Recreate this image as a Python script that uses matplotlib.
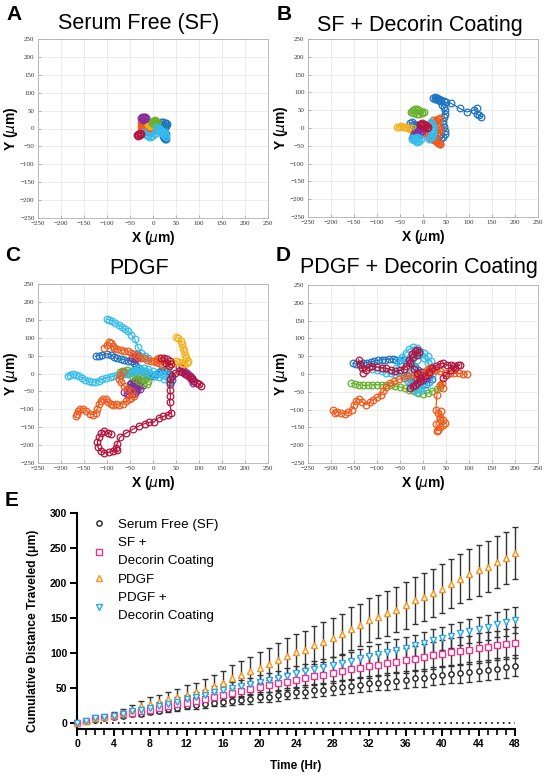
import matplotlib
matplotlib.use("Agg")
import matplotlib.pyplot as plt
from matplotlib.ticker import MultipleLocator

plt.rcParams.update({"font.family": ["Liberation Sans", "DejaVu Sans"],
                     "mathtext.fontset": "dejavusans"})

W, H = 550, 780

# ---- trajectory colours (MATLAB-ish, a bit brighter)
BLUE = "#1f74c0"; ORANGE = "#f25a1c"; YELLOW = "#f5b01a"; PURPLE = "#8a2d9c"
GREEN = "#68b22e"; CYAN = "#34bdee"; RED = "#b4143e"

# ---- A: serum free
a_colors = [BLUE, ORANGE, YELLOW, PURPLE, GREEN, CYAN, RED]
a_x = [[2, 6, 10, 14, 18, 22, 26, 29, 31, 28, 25, 22, 20, 23, 26, 28, 27, 25, 22, 24, 27, 29, 26],
       [-26, -24, -21, -18, -20, -24, -26, -23, -19, -15, -11, -8, -11, -15, -19, -22, -20, -16, -12, -8, -4, 0, 2, 0, -3, -6, -2, 2, 4, 1],
       [-10, -7, -4, -1, -3, -6, -9],
       [-26, -23, -20, -17, -15, -18, -21, -24],
       [-2, 1, 4, 7, 9, 8, 5, 2, 0],
       [-22, -18, -14, -10, -6, -2, 2, 6, 10, 14, 18, 22, 26, 29, 27, 23, 19, 15, 11, 7],
       [-35, -32, -29, -26, -29, -33]]
a_y = [[8, 10, 13, 15, 17, 18, 16, 14, 12, 8, 4, 0, -4, -8, -12, -16, -20, -24, -22, -26, -28, -30, -27],
       [16, 21, 24, 20, 14, 10, 4, -1, -3, 0, 3, 8, 13, 16, 12, 6, -2, -7, -10, -6, -11, -8, -3, 3, 7, 11, 14, 9, 4, 0],
       [12, 16, 18, 14, 9, 7, 10],
       [28, 31, 33, 32, 29, 26, 25, 27],
       [16, 20, 23, 22, 18, 14, 12, 15, 19],
       [-10, -14, -18, -22, -24, -20, -16, -12, -8, -4, -8, -14, -20, -24, -16, -10, -6, -2, 1, 4],
       [-18, -21, -19, -15, -13, -16]]

# ---- B: SF + decorin coating
b_colors = [BLUE, BLUE, ORANGE, YELLOW, PURPLE, GREEN, CYAN, CYAN, RED]
b_x = [[127, 122, 118, 117, 110, 95, 80, 60, 50, 45, 40, 35, 30, 25, 22, 26, 32, 38, 42, 45, 48, 47, 45, 43, 44, 46, 48, 47, 44, 40, 35, 30],
       [-28, -24, -20, -16, -12, -9, -12, -16, -20, -24, -20, -15, -10, -6, -3],
       [36, 32, 28, 24, 20, 16, 12, 8, 4, 2, 6, 12, 18, 24, 30, 34, 38, 36, 32, 28, 26, 30, 34, 37, 34, 30, 26, 22],
       [-57, -52, -47, -42, -37, -32, -28, -25],
       [-22, -18, -14, -10, -6, -2, -6, -10, -15, -19],
       [-26, -22, -18, -14, -10, -6, -2, 2, -2, -8, -14, -20, -24],
       [-24, -20, -16, -12, -8, -4, -8, -12, -16, -20, -24, -20],
       [14, 17, 19, 21, 22, 20, 18, 16, 18, 20, 22, 19, 16],
       [-6, -2, 2, 6, 10, 8, 4, 0, -4]]
b_y = [[32, 36, 40, 55, 50, 45, 55, 70, 72, 75, 80, 82, 85, 86, 84, 82, 80, 75, 65, 58, 50, 40, 30, 20, 10, 2, -8, -18, -25, -28, -22, -15],
       [14, 16, 12, 9, 5, -2, -8, -12, -8, -2, 2, -3, -8, -14, -18],
       [28, 24, 22, 18, 14, 10, 6, 2, -4, -12, -20, -26, -30, -34, -38, -42, -44, -46, -42, -36, -28, -20, -12, -4, 4, 12, 18, 22],
       [2, 4, 6, 4, 2, 0, -2, 0],
       [-22, -24, -20, -16, -12, -8, -4, -8, -14, -18],
       [46, 50, 53, 52, 50, 48, 46, 44, 41, 39, 40, 42, 44],
       [-28, -32, -36, -38, -36, -32, -28, -26, -30, -34, -32, -29],
       [-30, -22, -14, -6, 2, 10, 18, 12, 4, -6, -16, -24, -28],
       [10, 13, 11, 8, 4, 0, 3, 6, 8]]

# ---- C: PDGF
c_colors = [BLUE, BLUE, PURPLE, PURPLE, PURPLE, GREEN, CYAN, CYAN, CYAN, YELLOW, ORANGE, ORANGE, RED, RED]
c_x = [[-125, -118, -110, -100, -92, -85, -78, -70, -62, -55, -48, -42, -36, -30, -24, -18, -12, -6, 0, 6, 12, 18, 24, 30, 36, 40, 42, 38],
       [-50, -45, -40, -35, -30, -35, -42, -48, -44, -38],
       [-62, -57, -52, -46, -40, -35, -30, -36, -44, -52, -56, -48, -40, -32, -26, -22, -28, -36],
       [-45, -40, -35, -30, -34, -40],
       [56, 62, 68, 74, 80, 84, 88, 86, 82, 76, 70, 64],
       [-72, -64, -56, -48, -40, -32, -24, -16, -10, -14, -22, -30, -38, -46, -54, -62, -68],
       [-100, -95, -89, -82, -75, -68, -61, -54, -47, -40, -33, -26, -18, -10],
       [-185, -180, -174, -168, -161, -154, -147, -140, -133, -126, -118, -110, -102, -94, -86, -78, -70, -62, -54, -46, -38, -30],
       [-40, -30, -20, -10, 0, 10, 20, 30, 38, 34, 24, 14, 4, -6, -16, -26, -36],
       [50, 55, 60, 63, 65, 67, 70, 72, 75, 73, 68, 62, 56, 50, 44, 38, 34],
       [-106, -100, -96, -92, -88, -84, -78, -70, -62, -55, -48, -42, -35, -28, -20, -12, -5, 2, 8, 14, 20, 26, 20, 12, 6],
       [-168, -166, -162, -158, -152, -146, -138, -130, -124, -121, -118, -114, -108, -102, -97, -92, -87, -81, -74, -66, -58, -52, -47, -42, -48, -56, -64, -70, -74, -72, -66],
       [105, 100, 95, 90, 85, 80, 72, 64, 56, 48, 42, 38, 36, 37, 38, 36, 40, 32, 22, 12, 2, -8, -18, -30, -44, -58, -72, -78, -80, -78, -86, -96, -106, -114, -120, -121, -117, -112, -106, -98, -92],
       [18, 24, 30, 36, 40, 34, 28]]
c_y = [[48, 50, 52, 55, 52, 46, 42, 40, 38, 36, 34, 30, 22, 14, 8, 2, -4, -8, -6, -2, 4, 8, 10, 6, 0, -8, -18, -24],
       [-30, -36, -40, -38, -30, -24, -22, -28, -34, -44],
       [-52, -56, -60, -58, -54, -46, -36, -30, -34, -40, -46, -26, -18, -14, -20, -32, -44, -50],
       [42, 48, 54, 50, 44, 40],
       [18, 14, 8, 2, -6, -12, -20, -26, -16, -8, 0, 8],
       [4, 8, 10, 8, 4, 0, -4, -10, -20, -28, -26, -20, -14, -8, -2, 2, 6],
       [152, 150, 147, 142, 136, 130, 124, 118, 108, 96, 74, 58, 48, 42],
       [-6, -3, -2, -4, -8, -12, -17, -22, -25, -24, -20, -16, -12, -10, -8, -5, -3, 0, 2, 4, 6, 8],
       [10, 14, 16, 12, 6, 2, 0, -4, -12, -20, -16, -10, -6, -2, 2, 6, 8],
       [102, 98, 90, 82, 72, 62, 52, 44, 36, 30, 26, 28, 32, 34, 30, 26, 22],
       [72, 80, 88, 84, 76, 70, 68, 66, 64, 62, 58, 55, 48, 44, 42, 38, 35, 36, 40, 42, 38, 30, 24, 28, 32],
       [-120, -114, -106, -100, -98, -104, -112, -116, -110, -98, -86, -76, -70, -72, -80, -86, -88, -86, -88, -84, -78, -72, -68, -64, -50, -42, -34, -24, -14, -4, 4],
       [-36, -30, -26, -22, -14, -6, 0, 4, 6, 2, -6, -16, -30, -46, -62, -80, -110, -116, -120, -124, -136, -136, -140, -146, -156, -166, -178, -196, -208, -214, -216, -220, -222, -216, -206, -192, -178, -166, -160, -165, -170],
       [42, 44, 40, 34, 26, 22, 28]]

# ---- D: PDGF + decorin coating
d_colors = [BLUE, GREEN, CYAN, CYAN, PURPLE, ORANGE, ORANGE, ORANGE, RED]
d_x = [[-152, -145, -138, -130, -122, -114, -106, -98, -90, -82, -74, -66, -58, -50, -42, -34, -26, -18, -10, -2, 6, 14, 20, 14, 6, -2, -10, -18, -26, -34],
       [-156, -148, -140, -130, -120, -110, -100, -90, -80, -70, -60, -50, -40, -30, -20, -10, 0, 10, 20, 30, 36],
       [-54, -46, -38, -30, -22, -14, -6, 2, 10, 18, 24, 20, 12, 4, -4, -12, -20, -28, -34, -30, -22, -14, -6, 2, 10, 14, 8, 0, -8, -16, -24, -32, -42, -52, -58, -48, -38, -28, -18, -8],
       [-110, -100, -90, -80, -70, -60],
       [-12, -6, 0, 6, 10, 4, -4, -10],
       [-196, -192, -186, -178, -170, -162, -155, -150, -146, -140, -132, -124, -116, -108, -100, -92, -86, -80, -72, -62, -52, -42, -32, -22, -12, -2, 8, 18, 28, 38, 48, 58, 68, 78, 88, 96],
       [44, 42, 36, 30, 28, 32, 38, 44, 48, 44, 38, 32, 30, 28, 36, 40],
       [8, 12, 16, 20, 24, 18, 12],
       [-140, -136, -132, -130, -124, -118, -110, -100, -90, -80, -70, -60, -50, -42, -36, -30, -24, -18, -12, -8, -14, -22, -28, -20, -12, -6, -14, -22, -28, -18, -6, 4, 12, 20, 28, 36, 44, 52, 60, 68, 76, 80, 70, 60, 50, 44]]
d_y = [[30, 28, 26, 30, 32, 34, 36, 38, 40, 40, 42, 42, 40, 40, 38, 34, 28, 20, 12, 6, 0, -6, -14, -22, -28, -30, -24, -18, -10, -2],
       [-26, -28, -30, -32, -32, -30, -30, -30, -30, -32, -34, -36, -40, -44, -48, -52, -55, -54, -48, -42, -36],
       [36, 48, 60, 70, 76, 72, 66, 58, 50, 36, 16, -4, -22, -36, -46, -50, -44, -30, -12, 4, 22, 40, 52, 46, 32, 12, -8, -24, -32, -36, -30, -20, -6, 6, 18, 28, 38, 48, 56, 62],
       [14, 10, 8, 4, 2, 0],
       [-4, -12, -16, -10, -2, 4, 6, 0],
       [-100, -110, -106, -110, -112, -108, -100, -86, -76, -70, -78, -86, -80, -72, -66, -58, -48, -36, -26, -20, -14, -10, -6, -4, -2, 0, 4, 8, 10, 8, 4, 2, 2, 2, 0, 0],
       [-40, -24, -30, -60, -100, -110, -120, -130, -138, -144, -150, -156, -160, -140, -125, -105],
       [10, 14, 18, 16, 10, 8, 12],
       [40, 28, 16, 4, 12, 20, 22, 20, 18, 16, 12, 8, 10, 14, 22, 40, 56, 64, 68, 62, 52, 48, 30, 14, 4, -10, -24, -34, -40, -30, -20, -6, 6, 16, 22, 28, 30, 26, 24, 22, 24, 26, 18, 10, -2, -12]]

# ---- E: cumulative distance (mean, SD) per hour
hours = list(range(49))
sf_mean = [0, 3, 5, 7, 9, 11, 13, 14, 16, 18, 20, 22, 24, 26, 27, 29, 30, 32, 33, 35,
           37, 38, 40, 42, 44, 45, 47, 48, 50, 52, 53, 55, 57, 58, 59, 61, 62, 64, 65, 67,
           69, 70, 71, 73, 75, 76, 78, 80, 82]
sf_sd = [0, 1, 1, 1, 2, 2, 2, 3, 3, 3, 4, 4, 4, 5, 5, 5, 6, 6, 6, 7,
         7, 7, 8, 8, 8, 9, 9, 9, 10, 10, 10, 11, 11, 11, 12, 12, 12, 12, 13, 13,
         13, 13, 14, 14, 14, 14, 15, 15, 15]
sfdec_mean = [0, 4, 7, 9, 11, 13, 15, 17, 19, 22, 24, 27, 29, 32, 35, 38, 41, 43, 46, 49,
              52, 54, 57, 59, 62, 64, 67, 69, 72, 74, 77, 79, 81, 83, 86, 88, 90, 92, 94, 97,
              99, 101, 103, 105, 107, 109, 111, 113, 115]
sfdec_sd = [0, 1, 1, 2, 2, 3, 3, 3, 4, 4, 5, 5, 6, 6, 7, 7, 8, 8, 9, 9,
            10, 10, 11, 11, 12, 12, 13, 13, 14, 14, 15, 15, 16, 16, 17, 17, 18, 18, 19, 19,
            19, 20, 20, 20, 21, 21, 21, 22, 22]
pdgf_mean = [0, 4, 7, 9, 12, 15, 19, 24, 28, 31, 34, 37, 41, 44, 48, 53, 57, 64, 69, 74,
             79, 85, 90, 96, 101, 105, 111, 116, 122, 127, 135, 140, 147, 152, 157, 162, 168, 175, 180, 186,
             192, 199, 206, 213, 218, 223, 230, 236, 243]
pdgf_sd = [0, 1, 2, 3, 4, 6, 7, 8, 9, 10, 11, 12, 13, 14, 15, 16, 17, 19, 20, 21,
           22, 23, 24, 25, 26, 26, 27, 28, 28, 29, 30, 30, 31, 31, 32, 32, 33, 33, 34, 34,
           35, 35, 35, 36, 36, 36, 37, 37, 37]
pdgfdec_mean = [0, 4, 7, 9, 11, 14, 17, 19, 22, 25, 28, 31, 34, 37, 41, 45, 48, 50, 53, 56,
                59, 62, 65, 68, 71, 74, 77, 80, 83, 86, 89, 93, 96, 99, 102, 105, 108, 111, 114, 118,
                121, 124, 128, 131, 134, 137, 141, 144, 147]
pdgfdec_sd = [0, 1, 1, 2, 2, 3, 3, 4, 4, 5, 5, 6, 6, 7, 7, 8, 8, 9, 9, 9,
              10, 10, 10, 11, 11, 11, 12, 12, 12, 13, 13, 13, 14, 14, 14, 15, 15, 15, 16, 16,
              16, 17, 17, 17, 18, 18, 18, 19, 19]
e_labels = ["Serum Free (SF)", "SF +\nDecorin Coating", "PDGF", "PDGF +\nDecorin Coating"]

fig = plt.figure(figsize=(W / 100, H / 100), dpi=100)


def px_axes(l, t, r, b):
    return fig.add_axes([l / W, 1 - b / H, (r - l) / W, (b - t) / H])


def track_panel(box, xs, ys, colors, letter, title, lpos, tpos):
    ax = px_axes(*box)
    for x, y, c in zip(xs, ys, colors):
        ax.plot(x, y, "-o", color=c, lw=0.9, ms=4.8, mew=0.9, mfc="none")
    ax.set_xlim(-250, 250); ax.set_ylim(-250, 250)
    ax.xaxis.set_major_locator(MultipleLocator(50))
    ax.yaxis.set_major_locator(MultipleLocator(50))
    ax.grid(True, color="#e4e4e4", lw=0.5)
    ax.set_axisbelow(True)
    for s in ax.spines.values():
        s.set_color("#b0b0b0"); s.set_linewidth(0.6)
    ax.tick_params(direction="in", length=2, width=0.5, color="#999999",
                   labelsize=5, labelcolor="#333333", pad=2.5)
    for lab in ax.get_xticklabels() + ax.get_yticklabels():
        lab.set_family(["Liberation Serif", "DejaVu Serif"])
    ax.set_xlabel(r"X ($\mu$m)", fontsize=10, fontweight="bold", labelpad=2)
    ax.set_ylabel(r"Y ($\mu$m)", fontsize=10, fontweight="bold", labelpad=0)
    fig.text(lpos[0] / W, 1 - lpos[1] / H, letter, fontsize=15, fontweight="bold", va="top")
    fig.text(tpos[0] / W, 1 - tpos[1] / H, title, fontsize=15.5, ha="center", va="center")
    return ax


track_panel((38, 39, 268, 218), a_x, a_y, a_colors, "A", "Serum Free (SF)", (6, 5), (139, 24))
track_panel((308, 39, 538, 217), b_x, b_y, b_colors, "B", "SF + Decorin Coating", (277, 5), (420, 25))
track_panel((38, 284, 268, 463), c_x, c_y, c_colors, "C", "PDGF", (5, 246), (139, 269))
track_panel((308, 285, 538, 463), d_x, d_y, d_colors, "D", "PDGF + Decorin Coating", (276, 246), (419, 268))

# ---- panel E
ax = px_axes(77, 512.7, 515, 729.3)
series = [(sf_mean, sf_sd, "o", "#222222", 3.8),
          (sfdec_mean, sfdec_sd, "s", "#e8358f", 4.0),
          (pdgf_mean, pdgf_sd, "^", "#f7931e", 4.6),
          (pdgfdec_mean, pdgfdec_sd, "v", "#2aa7e6", 4.6)]
for m, sd, *_ in series:
    ax.errorbar(hours, m, yerr=sd, fmt="none", ecolor="#333333", elinewidth=1.0,
                capsize=2.5, capthick=1.0, clip_on=False, zorder=2)
for (m, sd, mk, col, ms), lab in zip(series, e_labels):
    ax.plot(hours, m, mk, color=col, ms=ms, mew=1.0, mfc="white", label=lab,
            clip_on=False, zorder=3)
ax.axhline(0, color="black", lw=1.2, ls=(0, (1, 2.5)), zorder=1)
ax.set_xlim(0, 48); ax.set_ylim(-8.5, 300)
ax.xaxis.set_major_locator(MultipleLocator(4))
ax.xaxis.set_minor_locator(MultipleLocator(1))
ax.yaxis.set_major_locator(MultipleLocator(50))
for s in ("top", "right"):
    ax.spines[s].set_visible(False)
for s in ("left", "bottom"):
    ax.spines[s].set_linewidth(1.5)
ax.tick_params(which="major", length=5, width=1.4, labelsize=7.5, pad=2)
ax.tick_params(which="minor", length=4, width=1.2)
for lab in ax.get_xticklabels() + ax.get_yticklabels():
    lab.set_fontweight("bold")
ax.set_xlabel("Time (Hr)", fontsize=8.5, fontweight="bold", labelpad=8)
ax.set_ylabel("Cumulative Distance Traveled (\u03bcm)", fontsize=8.7, fontweight="bold", labelpad=4)
ax.yaxis.set_label_coords(-0.087, 0.455)
leg = ax.legend(loc="upper left", bbox_to_anchor=(0.022, 0.997), frameon=False, fontsize=9.6,
                handlelength=1.0, handletextpad=0.95, labelspacing=0.45, borderaxespad=0)
for t in leg.get_texts():
    t.set_linespacing(1.7)
fig.text(5 / W, 1 - 491 / H, "E", fontsize=15, fontweight="bold", va="top")

fig.savefig("out.png", dpi=100)
